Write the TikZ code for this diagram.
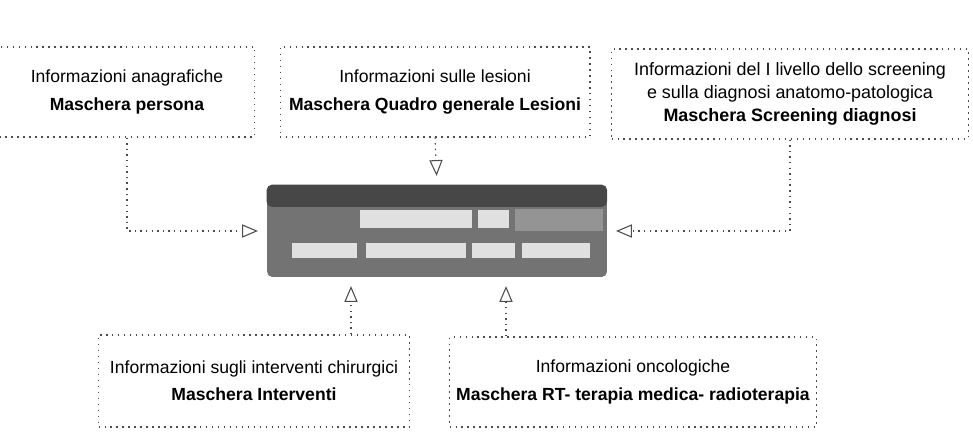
\documentclass[tikz,border=0pt]{standalone}
\usepackage{fontspec}
\setmainfont{Liberation Sans}
\usepackage{tikz}
\usetikzlibrary{arrows.meta}
\usepackage{xcolor}

\begin{document}
\begin{tikzpicture}[x=0.02cm, y=-0.02cm,
    >={Triangle[open, length=9pt, width=7.5pt]},
    mask/.style={draw=black!70, line width=0.6pt, dash pattern=on 0.8pt off 2.6pt,
      align=center, inner sep=0pt, font=\fontsize{10}{15.5}\selectfont},
    flow/.style={->, draw=black!70, line width=0.6pt, dash pattern=on 0.8pt off 2.4pt, shorten >=5pt},
    slot/.style={fill=black!12, draw=none}]
  \useasboundingbox (0,0) rectangle (973,448);
  \node[mask, minimum width=5.10cm, minimum height=1.80cm] (anag) at (127,92)
    {Informazioni anagrafiche\\ \textbf{Maschera persona}};
  \node[mask, minimum width=6.20cm, minimum height=1.80cm] (lesioni) at (435,92)
    {Informazioni sulle lesioni\\ \textbf{Maschera Quadro generale Lesioni}};
  \node[mask, minimum width=7.14cm, minimum height=1.80cm,
    font=\fontsize{10.2}{13}\selectfont] (screen) at (790,94)
    {Informazioni del I livello dello screening\\ e sulla diagnosi anatomo-patologica\\
     \textbf{Maschera Screening diagnosi}};
  \node[mask, minimum width=6.22cm, minimum height=1.84cm] (interv) at (254,381)
    {Informazioni sugli interventi chirurgici\\ \textbf{Maschera Interventi}};
  \node[mask, minimum width=7.34cm, minimum height=1.80cm] (onco) at (633,382)
    {Informazioni oncologiche\\ \textbf{Maschera RT- terapia medica- radioterapia}};
  % finestra centrale
  \node[fill=black!55, rounded corners=3pt, minimum width=6.80cm, minimum height=1.84cm,
    inner sep=0pt] (win) at (437,231) {};
  \fill[black!72, rounded corners=3pt] (win.north west) rectangle (607,207);
  \fill[black!42] (515,209) rectangle (603,231);
  \fill[slot] (360,210) rectangle (472,228);
  \fill[slot] (478,210) rectangle (509,228);
  \fill[slot] (292,243) rectangle (357,258);
  \fill[slot] (366,243) rectangle (466,258);
  \fill[slot] (472,243) rectangle (515,258);
  \fill[slot] (522,243) rectangle (590,258);
  \coordinate (c4) at (351,0);
  \coordinate (c5) at (506,0);
  \draw[flow] (anag.south) |- (win.west);
  \draw[flow] (lesioni.south) -- (win.north);
  \draw[flow] (screen.south) |- (win.east);
  \draw[flow] (interv.north -| c4) -- (win.south -| c4);
  \draw[flow] (onco.north -| c5) -- (win.south -| c5);
\end{tikzpicture}
\end{document}
